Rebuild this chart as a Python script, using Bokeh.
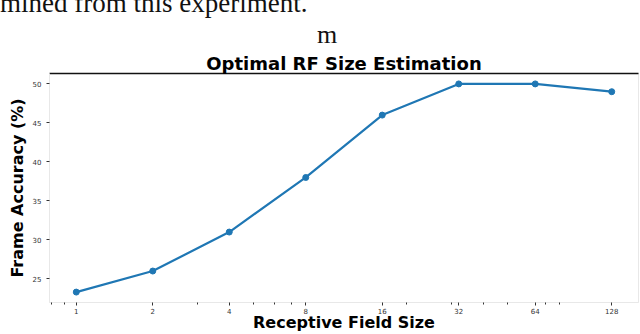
import numpy as np
from bokeh.plotting import figure
from bokeh.models import FixedTicker, LogAxis, Range1d, Title, Div
from bokeh.layouts import column
from bokeh.embed import file_html
from bokeh.resources import INLINE

# Data
rf_sizes = [1, 2, 4, 8, 16, 32, 64, 128]
accuracy = [23.3, 26.0, 31.0, 38.0, 46.0, 50.0, 50.0, 49.0]
x_major_ticks = [1, 2, 4, 8, 16, 32, 64, 128]
x_minor_ticks = [0.8, 0.9, 3, 5, 6, 7, 20, 30, 40, 50, 70, 80]
y_ticks = [25, 30, 35, 40, 45, 50]
page_text = "mined from this experiment."
panel_letter = "m"
chart_title = "Optimal RF Size Estimation"

# ranges with 5% margins (log space for x)
lx = np.log2(rf_sizes)
span_x = lx.max() - lx.min()
x_start = 2 ** (lx.min() - 0.05 * span_x)
x_end = 2 ** (lx.max() + 0.05 * span_x)
span_y = max(accuracy) - min(accuracy)
y_start = min(accuracy) - 0.05 * span_y
y_end = max(accuracy) + 0.05 * span_y

DIV_H = 50
header = Div(
    text=(
        '<div style="position:relative;width:640px;height:%dpx;overflow:hidden;'
        'font-family:\'Liberation Serif\',serif;font-size:27px;line-height:27px;color:#111;">'
        '<span style="position:absolute;left:0px;top:-10px;white-space:nowrap;">%s</span>'
        '<span style="position:absolute;left:317px;top:22px;font-size:26px;line-height:26px;">%s</span>'
        '</div>' % (DIV_H, page_text, panel_letter)
    ),
    width=640, height=DIV_H, margin=0,
)

p = figure(width=640, height=334 - DIV_H, x_axis_type="log",
           x_range=Range1d(x_start, x_end), y_range=Range1d(y_start, y_end),
           output_backend="svg", toolbar_location=None, title=None, margin=0)
p.min_border_left = 49
p.min_border_right = 2
p.min_border_top = 72 - DIV_H
p.min_border_bottom = 32
p.background_fill_color = "white"
p.border_fill_color = "white"
p.outline_line_color = "#e8e8e8"
p.outline_line_width = 1
p.xgrid.visible = False
p.ygrid.visible = False

p.line(rf_sizes, accuracy, line_color="#1f77b4", line_width=2.2)
p.scatter(rf_sizes, accuracy, size=6, fill_color="#1f77b4", line_color="#1f77b4")

xa = p.xaxis[0]
xa.ticker = FixedTicker(ticks=x_major_ticks, minor_ticks=x_minor_ticks)
xa.major_label_overrides = {t: str(t) for t in x_major_ticks}
xa.axis_label = "Receptive Field Size"
ya = p.yaxis[0]
ya.ticker = FixedTicker(ticks=y_ticks, minor_ticks=[])
ya.axis_label = "Frame Accuracy (%)"

for ax in (xa, ya):
    ax.axis_line_color = "#e8e8e8"
    ax.axis_line_width = 1
    ax.major_tick_line_color = "#333333"
    ax.major_tick_line_width = 1
    ax.major_tick_out = 3
    ax.major_tick_in = 0
    ax.minor_tick_line_color = "#333333"
    ax.minor_tick_out = 2
    ax.minor_tick_in = 0
    ax.major_label_text_font = "DejaVu Sans"
    ax.major_label_text_font_size = "7px"
    ax.major_label_text_color = "#333333"
    ax.axis_label_text_font = "DejaVu Sans"
    ax.axis_label_text_font_style = "bold"
    ax.axis_label_text_font_size = "16px"
    ax.axis_label_text_color = "black"
ya.minor_tick_line_color = None
ya.major_label_standoff = 5
ya.axis_label_standoff = 3
xa.major_label_standoff = 2
xa.axis_label_standoff = -4

# top black spine
top = LogAxis(ticker=FixedTicker(ticks=[]), axis_line_color="#111111",
              axis_line_width=1.5, major_tick_line_color=None,
              minor_tick_line_color=None, major_label_text_font_size="0px",
              major_label_standoff=0)
p.add_layout(top, "above")

p.add_layout(Title(text=chart_title, align="center",
                   text_font="DejaVu Sans", text_font_style="bold",
                   text_font_size="18px", text_color="black", standoff=0), "above")

layout = column(header, p, spacing=0, margin=0)
open("out.html", "w").write(file_html(layout, INLINE))
